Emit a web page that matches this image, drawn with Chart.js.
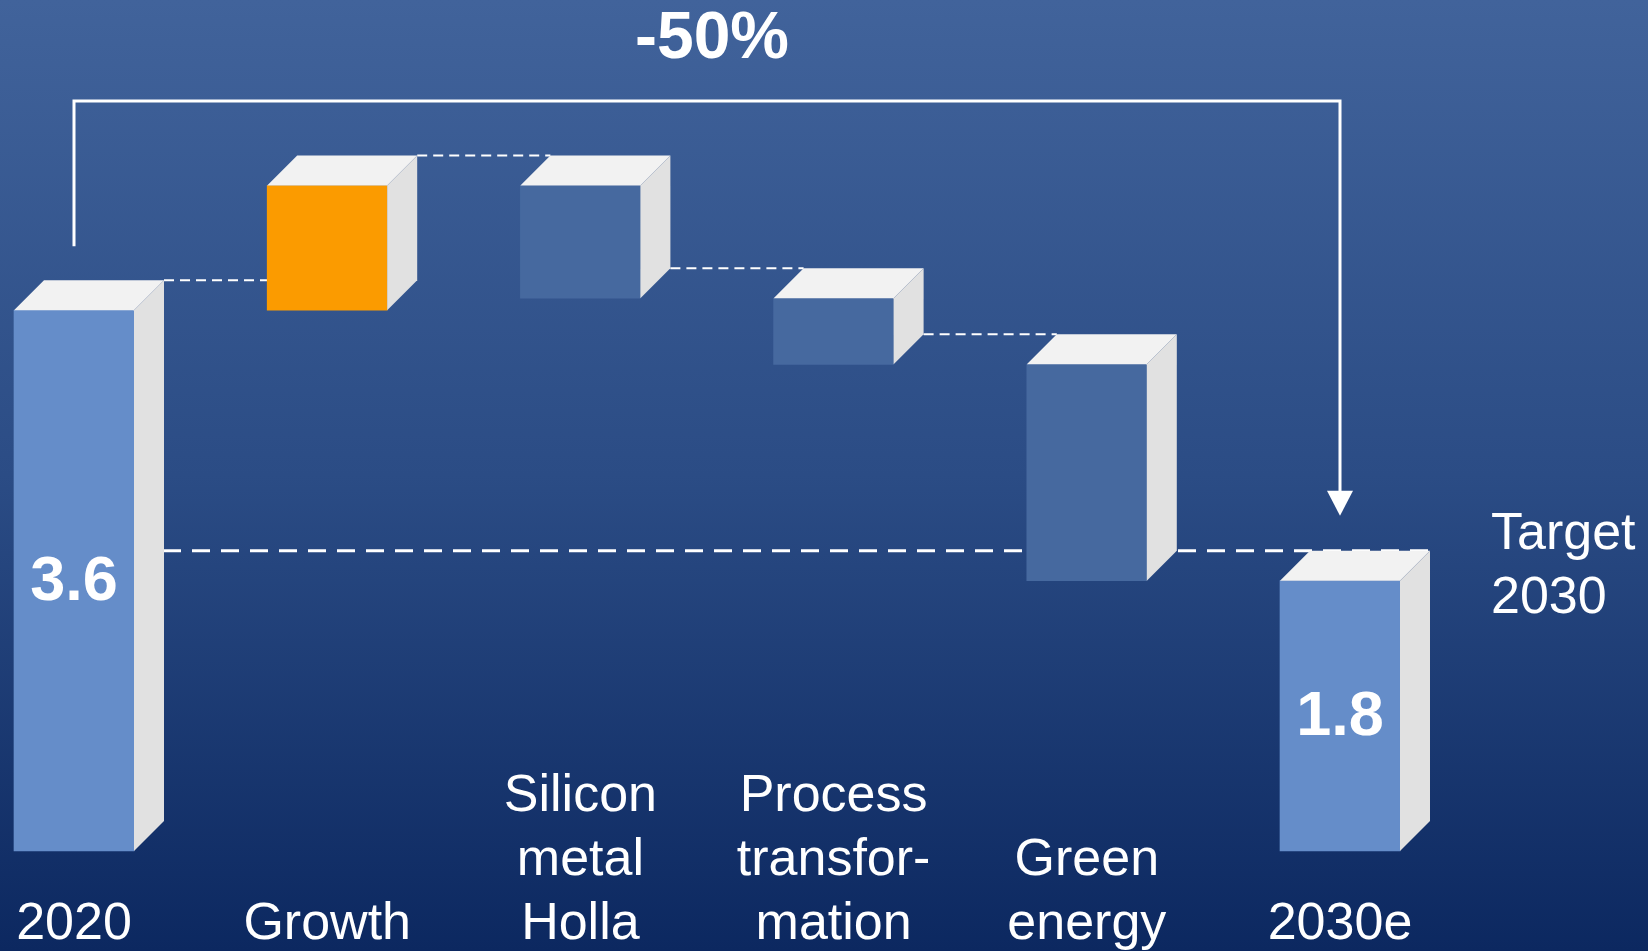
<!DOCTYPE html>
<html>
<head>
<meta charset="utf-8">
<script src="https://cdn.jsdelivr.net/npm/chart.js@4"></script>
<style>
html, body { margin: 0; padding: 0; background: #0c2860; overflow: hidden; }
#wrap { width: 1648px; height: 951px; }
</style>
</head>
<body>
<div id="wrap"><canvas id="myChart" width="1648" height="951"></canvas></div>
<script>
// waterfall data
const categories = [['2020'], ['Growth'], ['Silicon', 'metal', 'Holla'], ['Process', 'transfor-', 'mation'], ['Green', 'energy'], ['2030e']];
const steps = [3.6, 0.83, -0.75, -0.44, -1.44, 1.8];
const isTotal = [true, false, false, false, false, true];
const valueLabels = ['3.6', '', '', '', '', '1.8'];
const targetValue = 1.8;
const changeLabel = '-50%';
const targetLabel = ['Target', '2030'];

// build floating ranges for the waterfall
let running = 0;
const levels = [];
const ranges = steps.map((v, i) => {
    if (isTotal[i]) {
        running = v;
        levels.push(v);
        return [0, v];
    }
    const from = running;
    running = running + v;
    levels.push(running);
    return [Math.min(from, running), Math.max(from, running)];
});

const colors = steps.map((v, i) => isTotal[i] ? '#658dc9' : (v > 0 ? '#fb9b00' : '#46699f'));

const DEPTH = 30;
const FONT = '"Liberation Sans", Arial, sans-serif';

function bounds(bar) {
    const top = Math.min(bar.y, bar.base);
    const bottom = Math.max(bar.y, bar.base);
    return { x0: bar.x - bar.width / 2, x1: bar.x + bar.width / 2, top: top, bottom: bottom, cx: bar.x };
}

const waterfall3d = {
    id: 'waterfall3d',
    beforeDraw(chart) {
        const ctx = chart.ctx;
        const g = ctx.createLinearGradient(0, 0, 0, chart.height);
        g.addColorStop(0, '#41639b');
        g.addColorStop(0.5, '#2b4c85');
        g.addColorStop(1, '#0c2860');
        ctx.save();
        ctx.fillStyle = g;
        ctx.fillRect(0, 0, chart.width, chart.height);
        ctx.restore();
    },
    beforeDatasetsDraw(chart) {
        const ctx = chart.ctx;
        const y = chart.scales.y;
        const bars = chart.getDatasetMeta(0).data.map(bounds);
        ctx.save();
        ctx.strokeStyle = '#ffffff';
        // connectors between steps
        ctx.lineWidth = 2;
        ctx.setLineDash([10, 6]);
        for (let i = 0; i < bars.length - 2; i++) {
            const ly = y.getPixelForValue(levels[i]) - DEPTH;
            ctx.beginPath();
            ctx.moveTo(bars[i].x1 + DEPTH, ly);
            ctx.lineTo(bars[i + 1].x0 + DEPTH, ly);
            ctx.stroke();
        }
        // target line
        const ty = y.getPixelForValue(targetValue) - DEPTH;
        ctx.lineWidth = 3;
        ctx.setLineDash([18, 11]);
        ctx.beginPath();
        ctx.moveTo(bars[0].x1, ty);
        ctx.lineTo(bars[bars.length - 1].x1 + DEPTH, ty);
        ctx.stroke();
        ctx.restore();
    },
    afterDatasetsDraw(chart) {
        const ctx = chart.ctx;
        const bars = chart.getDatasetMeta(0).data.map(bounds);
        ctx.save();
        bars.forEach((b, i) => {
            // top face
            ctx.fillStyle = '#f2f2f2';
            ctx.beginPath();
            ctx.moveTo(b.x0, b.top);
            ctx.lineTo(b.x0 + DEPTH, b.top - DEPTH);
            ctx.lineTo(b.x1 + DEPTH, b.top - DEPTH);
            ctx.lineTo(b.x1, b.top);
            ctx.closePath();
            ctx.fill();
            // side face
            ctx.fillStyle = '#e1e1e1';
            ctx.beginPath();
            ctx.moveTo(b.x1, b.top);
            ctx.lineTo(b.x1 + DEPTH, b.top - DEPTH);
            ctx.lineTo(b.x1 + DEPTH, b.bottom - DEPTH);
            ctx.lineTo(b.x1, b.bottom);
            ctx.closePath();
            ctx.fill();

            ctx.fillStyle = '#ffffff';
            ctx.textAlign = 'center';
            if (valueLabels[i]) {
                ctx.font = 'bold 63px ' + FONT;
                ctx.textBaseline = 'middle';
                ctx.fillText(valueLabels[i], b.cx, (b.top + b.bottom) / 2 + 2);
            }
            // category labels, bottom aligned
            ctx.font = '52px ' + FONT;
            ctx.textBaseline = 'alphabetic';
            const lines = categories[i];
            lines.forEach((t, k) => {
                ctx.fillText(t, b.cx, 939 - (lines.length - 1 - k) * 64);
            });
        });

        // bracket with arrow
        const first = bars[0];
        const last = bars[bars.length - 1];
        const topY = chart.chartArea.top + 1;
        const tipY = last.top - DEPTH - 35;
        ctx.strokeStyle = '#ffffff';
        ctx.fillStyle = '#ffffff';
        ctx.lineWidth = 3;
        ctx.setLineDash([]);
        ctx.beginPath();
        ctx.moveTo(first.cx, first.top - DEPTH - 34);
        ctx.lineTo(first.cx, topY);
        ctx.lineTo(last.cx, topY);
        ctx.lineTo(last.cx, tipY - 20);
        ctx.stroke();
        ctx.beginPath();
        ctx.moveTo(last.cx - 13, tipY - 25);
        ctx.lineTo(last.cx + 13, tipY - 25);
        ctx.lineTo(last.cx, tipY);
        ctx.closePath();
        ctx.fill();

        ctx.textAlign = 'center';
        ctx.textBaseline = 'alphabetic';
        ctx.font = 'bold 66px ' + FONT;
        ctx.fillText(changeLabel, (first.cx + last.cx) / 2 + 5, 58);

        ctx.textAlign = 'left';
        ctx.font = '52px ' + FONT;
        targetLabel.forEach((t, k) => {
            ctx.fillText(t, last.x1 + DEPTH + 61, 549 + k * 64);
        });
        ctx.restore();
    }
};

const ctx = document.getElementById('myChart');
const myChart = new Chart(ctx, {
    type: 'bar',
    data: {
        labels: categories,
        datasets: [{
            data: ranges,
            backgroundColor: colors,
            borderWidth: 0,
            barThickness: 120,
            clip: false
        }]
    },
    options: {
        responsive: false,
        animation: false,
        layout: {
            padding: { left: 74, right: 308, top: 100, bottom: 100 }
        },
        scales: {
            x: { type: 'category', offset: false, display: false },
            y: { min: 0, max: 5, display: false }
        },
        plugins: {
            legend: { display: false },
            tooltip: { enabled: false }
        }
    },
    plugins: [waterfall3d]
});
</script>
</body>
</html>
